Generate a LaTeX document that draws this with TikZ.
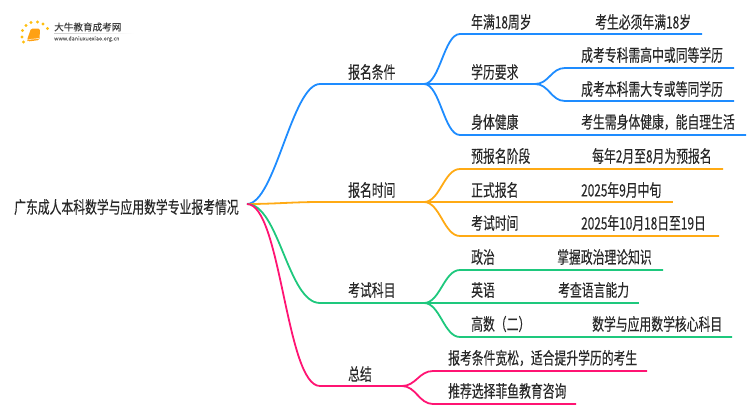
\documentclass[tikz,border=0pt]{standalone}
\usepackage{fontspec}
\newfontfamily\cjk[FakeStretch=0.695,FakeBold=0.25]{Noto Sans CJK SC}
\newfontfamily\logofont[FakeBold=0.3]{Noto Sans CJK SC}
\definecolor{myblue}{RGB}{30,140,255}
\definecolor{myorange}{RGB}{255,170,20}
\definecolor{mygreen}{RGB}{30,200,125}
\definecolor{mypink}{RGB}{255,20,115}
\definecolor{mytext}{RGB}{40,40,40}
\usetikzlibrary{arrows,calc}
\tikzset{
    txt/.style={
           anchor=west,
           inner sep=0pt,
           text=mytext,
           font=\cjk\fontsize{17}{17}\selectfont,
           },
    branch/.style={
           line width=1.8pt,
           },
}
\newcommand{\fork}[1]{.. controls +(#1,0) and +(-#1,0) ..}

\begin{document}
\begin{tikzpicture}[x=1pt,y=-1pt]
  \useasboundingbox (0,0) rectangle (750,410);
  % logo
  \foreach \px/\py in {22.5/30.5, 26/25.5, 31/22.5, 37.5/22, 43/24, 47.5/28.5, 22/37, 23.5/42}
    \fill[myorange!75!yellow] (\px,\py) circle (1.7pt);
  \fill[myorange!95!red, rounded corners=1.5pt] (31,28.5) -- (40,28.5) -- (39.5,40) -- (28,41.5) -- (27,40) -- cycle;
  \draw[white, line width=0.5pt] (28.5,39.5) -- (39,38.5);
  \node[anchor=west, inner sep=0pt, text=black!75, font=\logofont\fontsize{9.6}{10}\selectfont] (logoname) at (54,27) {大牛教育成考网};
  \node[anchor=west, inner sep=0pt, text=black!60, font=\logofont\fontsize{5.4}{6}\selectfont] (logourl) at (54,39) {www.daniuxuexiao.org.cn};
  \shade[left color=black!20, right color=white] (54,33) rectangle (134,33.6);
  % points of the lines
  \coordinate (R) at (247,204);
  \coordinate (A0) at (320,84);   \coordinate (A) at (424,84);
  \coordinate (B0) at (320,202);  \coordinate (B) at (424,202);
  \coordinate (C0) at (320,303);  \coordinate (C) at (424,303);
  \coordinate (D0) at (320,386);  \coordinate (D) at (402,386);
  \coordinate (A1a) at (460,34);  \coordinate (A1) at (702,34);
  \coordinate (A2) at (535,84);
  \coordinate (A2a) at (565,68);  \coordinate (A21) at (734,68);
  \coordinate (A2b) at (565,101); \coordinate (A22) at (734,101);
  \coordinate (A3a) at (460,135); \coordinate (A3) at (746,135);
  \coordinate (B1a) at (460,169); \coordinate (B1) at (723,169);
  \coordinate (B2) at (673,202);
  \coordinate (B3a) at (460,236); \coordinate (B3) at (719,236);
  \coordinate (C1a) at (460,270); \coordinate (C1) at (663,270);
  \coordinate (C2) at (639,303);
  \coordinate (C3a) at (460,337); \coordinate (C3) at (732,337);
  \coordinate (D1a) at (433,371); \coordinate (D1) at (647,371);
  \coordinate (D2a) at (433,404); \coordinate (D2) at (576,404);
  % lines
  \draw[branch, myblue]   (R) \fork{28} (A0) -- (A);
  \draw[branch, myblue]   (A) \fork{16} (A1a) -- (A1);
  \draw[branch, myblue]   (A) -- (A2);
  \draw[branch, myblue]   (A2) \fork{14} (A2a) -- (A21);
  \draw[branch, myblue]   (A2) \fork{14} (A2b) -- (A22);
  \draw[branch, myblue]   (A) \fork{16} (A3a) -- (A3);
  \draw[branch, myorange] (R) \fork{28} (B0) -- (B);
  \draw[branch, myorange] (B) \fork{16} (B1a) -- (B1);
  \draw[branch, myorange] (B) -- (B2);
  \draw[branch, myorange] (B) \fork{16} (B3a) -- (B3);
  \draw[branch, mygreen]  (R) \fork{32} (C0) -- (C);
  \draw[branch, mygreen]  (C) \fork{16} (C1a) -- (C1);
  \draw[branch, mygreen]  (C) -- (C2);
  \draw[branch, mygreen]  (C) \fork{16} (C3a) -- (C3);
  \draw[branch, mypink]   (R) \fork{34} (D0) -- (D);
  \draw[branch, mypink]   (D) \fork{14} (D1a) -- (D1);
  \draw[branch, mypink]   (D) \fork{14} (D2a) -- (D2);
  % texts
  \node[txt] (root) at (14,207) {广东成人本科数学与应用数学专业报考情况};
  \node[txt] (a)  at (348,72)  {报名条件};
  \node[txt] (b)  at (348,190) {报名时间};
  \node[txt] (c)  at (348,290) {考试科目};
  \node[txt] (d)  at (348,374) {总结};
  \node[txt] (a1) at (471,22)  {年满18周岁};
  \node[txt] (a2) at (471,72)  {学历要求};
  \node[txt] (a3) at (471,122) {身体健康};
  \node[txt] (b1) at (471,156) {预报名阶段};
  \node[txt] (b2) at (471,190) {正式报名};
  \node[txt] (b3) at (471,223) {考试时间};
  \node[txt] (c1) at (471,257) {政治};
  \node[txt] (c2) at (471,290) {英语};
  \node[txt] (c3) at (471,324) {高数（二）};
  \node[txt] (d1) at (448,358) {报考条件宽松，适合提升学历的考生};
  \node[txt] (d2) at (448,391) {推荐选择菲鱼教育咨询};
  \node[txt] (a1v)  at (595,22)  {考生必须年满18岁};
  \node[txt] (a21v) at (581,55)  {成考专科需高中或同等学历};
  \node[txt] (a22v) at (581,89)  {成考本科需大专或等同学历};
  \node[txt] (a3v)  at (581,122) {考生需身体健康，能自理生活};
  \node[txt] (b1v)  at (592,156) {每年2月至8月为预报名};
  \node[txt] (b2v)  at (581,190) {2025年9月中旬};
  \node[txt] (b3v)  at (581,223) {2025年10月18日至19日};
  \node[txt] (c1v)  at (557,257) {掌握政治理论知识};
  \node[txt] (c2v)  at (558,290) {考查语言能力};
  \node[txt] (c3v)  at (592,324) {数学与应用数学核心科目};
\end{tikzpicture}
\end{document}
